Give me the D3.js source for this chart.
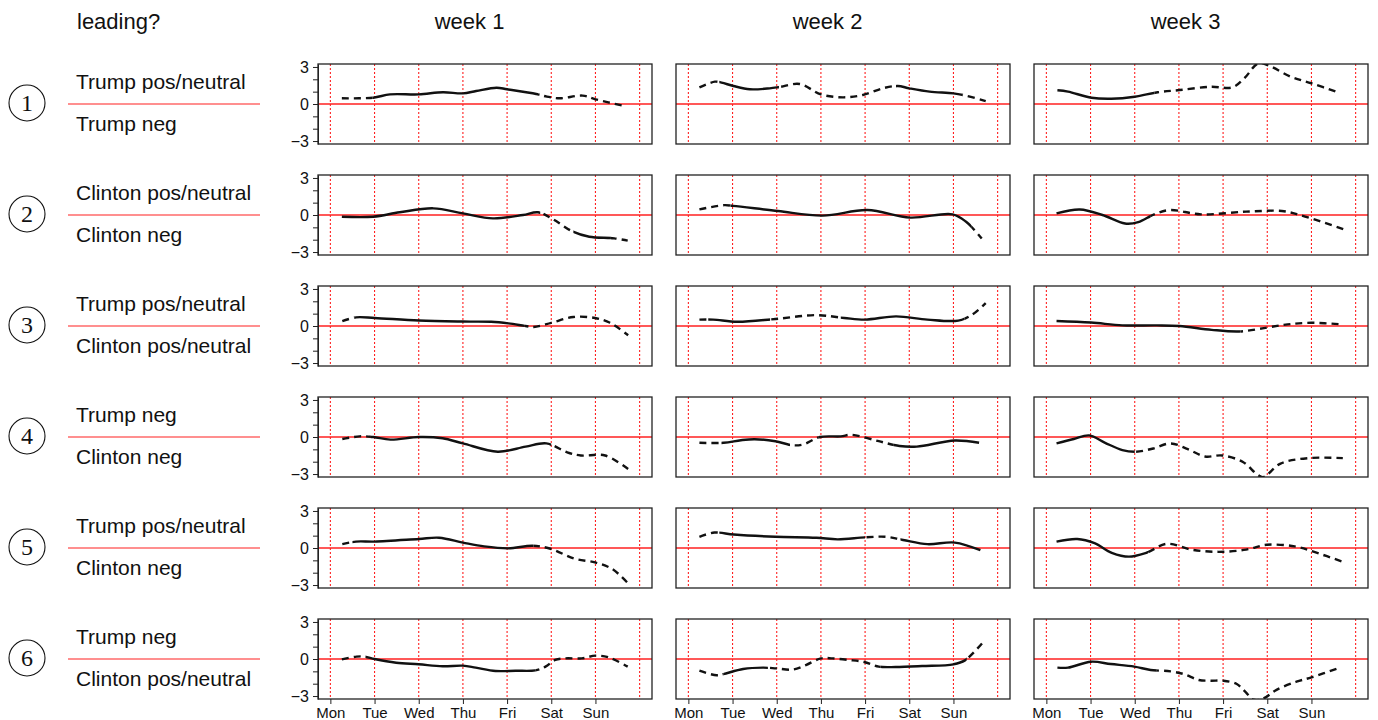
<!DOCTYPE html>
<html><head><meta charset="utf-8">
<script src="https://cdn.jsdelivr.net/npm/d3@7"></script>
<style>body{margin:0;background:#fff}svg{display:block}</style>
</head><body>
<svg id="chart" width="1378" height="720"></svg>
<script>
// ---------- data ----------
const days = ["Mon","Tue","Wed","Thu","Fri","Sat","Sun"];
const weeks = ["week 1","week 2","week 3"];
const headerLabel = "leading?";
const rowNumbers = ["1","2","3","4","5","6"];
const topLabels = ["Trump pos/neutral","Clinton pos/neutral","Trump pos/neutral","Trump neg","Trump pos/neutral","Trump neg"];
const bottomLabels = ["Trump neg","Clinton neg","Clinton pos/neutral","Clinton neg","Clinton neg","Clinton pos/neutral"];
const yTicks = [-3,-2,-1,0,1,2,3];
const yTickLabels = {"-3":"\u22123","0":"0","3":"3"};

// each row: [week1, week2, week3]; each series: [day, value]
const row1 = [
  [[0.26,0.46],[0.97,0.51],[1.35,0.78],[2.0,0.78],[2.55,0.95],[3.0,0.86],[3.3,1.05],[3.76,1.32],[4.0,1.19],[4.66,0.81],[4.9,0.6],[5.19,0.46],[5.71,0.68],[6.0,0.38],[6.65,-0.16]],
  [[0.25,1.35],[0.6,1.81],[0.75,1.73],[1.02,1.46],[1.39,1.19],[1.84,1.27],[2.07,1.38],[2.52,1.62],[3.0,0.78],[3.5,0.54],[3.95,0.73],[4.4,1.27],[4.74,1.46],[5.0,1.27],[5.46,1.0],[6.0,0.86],[6.28,0.68],[6.73,0.24]],
  [[0.25,1.11],[0.49,1.0],[1.02,0.51],[1.47,0.43],[2.0,0.59],[2.52,0.95],[3.02,1.13],[3.72,1.4],[4.21,1.35],[4.48,2.08],[4.8,3.3],[5.04,3.1],[5.53,2.21],[6.0,1.68],[6.62,0.92]]
];
const row2 = [
  [[0.26,-0.14],[0.97,-0.14],[1.57,0.22],[2.33,0.54],[3.0,0.13],[3.68,-0.27],[4.36,0.0],[4.7,0.22],[5.03,-0.32],[5.49,-1.35],[5.86,-1.76],[6.43,-1.89],[6.73,-2.08]],
  [[0.25,0.45],[0.81,0.8],[1.01,0.74],[2.03,0.32],[3.04,-0.05],[4.05,0.4],[5.02,-0.21],[5.98,0.05],[6.28,-0.53],[6.64,-1.9]],
  [[0.23,0.13],[0.76,0.45],[1.27,0.0],[1.78,-0.69],[2.08,-0.58],[2.44,0.05],[2.79,0.4],[3.5,0.05],[4.52,0.27],[5.33,0.32],[5.74,0.0],[6.72,-1.14]]
];
const row3 = [
  [[0.27,0.39],[0.58,0.7],[1.0,0.65],[2.0,0.44],[3.0,0.36],[3.64,0.34],[4.03,0.21],[4.42,0.0],[4.6,-0.08],[5.0,0.26],[5.5,0.73],[5.99,0.65],[6.33,0.26],[6.74,-0.75]],
  [[0.25,0.52],[0.56,0.52],[1.11,0.34],[1.97,0.57],[2.9,0.88],[3.53,0.65],[4.0,0.52],[4.7,0.78],[5.41,0.52],[6.11,0.44],[6.42,0.91],[6.73,1.85]],
  [[0.23,0.41],[1.01,0.28],[1.72,0.05],[2.5,0.05],[3.01,0.0],[3.74,-0.31],[4.37,-0.44],[4.99,-0.13],[5.46,0.13],[6.0,0.26],[6.68,0.13]]
];
const row4 = [
  [[0.27,-0.16],[0.66,0.05],[0.97,0.0],[1.36,-0.21],[2.0,0.0],[2.54,-0.1],[3.0,-0.52],[3.79,-1.19],[4.42,-0.78],[4.89,-0.52],[5.36,-1.24],[5.67,-1.5],[6.22,-1.5],[6.74,-2.6]],
  [[0.25,-0.47],[0.8,-0.47],[1.19,-0.26],[1.5,-0.18],[1.97,-0.34],[2.36,-0.67],[2.6,-0.6],[2.98,0.0],[3.45,0.05],[3.69,0.18],[4.31,-0.34],[4.78,-0.73],[5.17,-0.78],[6.03,-0.28],[6.58,-0.47]],
  [[0.23,-0.52],[0.62,-0.16],[0.97,0.13],[1.33,-0.47],[1.72,-1.06],[2.03,-1.19],[2.42,-0.93],[2.81,-0.52],[3.2,-0.98],[3.59,-1.58],[3.98,-1.5],[4.45,-2.02],[4.76,-3.0],[4.91,-3.25],[5.3,-2.15],[5.93,-1.71],[6.71,-1.71]]
];
const row5 = [
  [[0.27,0.31],[0.58,0.52],[1.0,0.52],[2.0,0.73],[2.46,0.83],[3.0,0.44],[3.48,0.13],[4.03,-0.03],[4.58,0.18],[5.0,-0.08],[5.52,-0.86],[5.99,-1.17],[6.38,-1.7],[6.74,-2.87]],
  [[0.25,0.91],[0.59,1.25],[1.03,1.09],[1.97,0.91],[2.9,0.83],[3.38,0.7],[4.0,0.86],[4.47,0.91],[4.86,0.65],[5.41,0.31],[6.03,0.44],[6.61,-0.18]],
  [[0.23,0.52],[0.7,0.73],[1.09,0.39],[1.48,-0.39],[1.87,-0.7],[2.26,-0.39],[2.73,0.34],[3.28,-0.13],[3.9,-0.31],[4.52,-0.13],[4.99,0.26],[5.62,0.13],[6.08,-0.34],[6.71,-1.12]]
];
const row6 = [
  [[0.26,-0.03],[0.59,0.19],[0.78,0.19],[1.0,0.0],[1.49,-0.3],[2.0,-0.43],[2.54,-0.59],[3.0,-0.54],[3.29,-0.7],[3.74,-0.97],[4.19,-0.95],[4.64,-0.92],[4.87,-0.62],[5.09,-0.08],[5.32,0.05],[5.69,0.05],[6.0,0.27],[6.29,0.14],[6.73,-0.62]],
  [[0.25,-0.95],[0.64,-1.32],[0.79,-1.22],[1.24,-0.81],[1.69,-0.7],[1.99,-0.76],[2.36,-0.86],[2.66,-0.49],[3.0,0.05],[3.26,0.05],[3.64,-0.08],[3.98,-0.24],[4.31,-0.62],[4.69,-0.65],[5.29,-0.57],[6.0,-0.43],[6.26,-0.11],[6.68,1.4]],
  [[0.25,-0.7],[0.49,-0.7],[1.01,-0.22],[1.46,-0.41],[1.99,-0.62],[2.36,-0.89],[2.81,-1.0],[3.11,-1.22],[3.45,-1.7],[3.71,-1.76],[4.01,-1.76],[4.31,-2.03],[4.5,-2.65],[4.69,-3.3],[4.91,-3.2],[5.21,-2.5],[5.66,-1.84],[6.0,-1.49],[6.6,-0.76]]
];
// day ranges drawn solid (rest dashed)
const row1Solid = [[[0.95,4.7]],[[0.7,2.05],[4.7,6.2]],[[0,2.45]]];
const row2Solid = [[[0,4.75],[5.5,6.35]],[[0.95,6.4]],[[0,2.35]]];
const row3Solid = [[[0.55,4.4]],[[0.45,1.85],[3.45,6.25]],[[0,4.4]]];
const row4Solid = [[[0.9,5.0]],[[0.75,2.3],[2.95,3.5],[4.65,7]],[[0,2.0]]];
const row5Solid = [[[0.5,4.6]],[[0.7,4.0],[4.8,7]],[[0,2.3]]];
const row6Solid = [[[0.8,4.65]],[[0.8,1.8],[4.35,6.3]],[[0,2.5]]];

const rows = [row1,row2,row3,row4,row5,row6];
const rowsSolid = [row1Solid,row2Solid,row3Solid,row4Solid,row5Solid,row6Solid];

// ---------- layout ----------
const svg = d3.select("#chart");
const FONT = "'Liberation Sans', Arial, sans-serif";
const colLeft = [318, 676, 1034];
const panelW = 334, panelH = 80, rowTop0 = 64, rowPitch = 111;
const RED = "#ff2020";

// header
svg.append("text").attr("x",77).attr("y",29).attr("font-family",FONT).attr("font-size",22).attr("fill","#111").text(headerLabel);

const defs = svg.append("defs");
let clipId = 0;

rows.forEach((row, r) => {
  const top = rowTop0 + r*rowPitch;
  const mid = top + panelH/2;
  // left labels
  svg.append("circle").attr("cx",27).attr("cy",mid-1).attr("r",18).attr("fill","none").attr("stroke","#111").attr("stroke-width",1.1);
  svg.append("text").attr("x",27).attr("y",mid-1).attr("text-anchor","middle").attr("dominant-baseline","central")
    .attr("font-family","'Liberation Serif','DejaVu Serif',serif").attr("font-size",24).attr("fill","#111").text(rowNumbers[r]);
  svg.append("text").attr("x",76).attr("y",mid-15).attr("font-family",FONT).attr("font-size",21).attr("fill","#111").text(topLabels[r]);
  svg.append("text").attr("x",76).attr("y",mid+27).attr("font-family",FONT).attr("font-size",21).attr("fill","#111").text(bottomLabels[r]);
  svg.append("line").attr("x1",68).attr("x2",260).attr("y1",mid).attr("y2",mid).attr("stroke",RED).attr("stroke-width",1.2);

  row.forEach((series, c) => {
    const left = colLeft[c];
    const x = d3.scaleLinear().domain([-0.28, 7.28]).range([left, left+panelW]);
    const y = d3.scaleLinear().domain([-3.24, 3.24]).range([top+panelH, top]);
    const g = svg.append("g");

    // week titles
    if (r === 0) {
      svg.append("text").attr("x", x(3.15)).attr("y", 29).attr("text-anchor","middle")
        .attr("font-family",FONT).attr("font-size",22).attr("fill","#111").text(weeks[c]);
    }
    // vertical day lines
    g.selectAll("line.v").data(d3.range(0,8)).join("line")
      .attr("x1",d=>x(d)).attr("x2",d=>x(d)).attr("y1",top).attr("y2",top+panelH)
      .attr("stroke",RED).attr("stroke-width",1.1).attr("stroke-dasharray","2,2");
    // zero line
    g.append("line").attr("x1",left).attr("x2",left+panelW).attr("y1",y(0)).attr("y2",y(0))
      .attr("stroke",RED).attr("stroke-width",1.4);

    // clip paths
    const solid = rowsSolid[r][c];
    const dashed = [];
    let start = -0.28;
    solid.forEach(([a,b]) => { if (a > start) dashed.push([start,a]); start = b; });
    if (start < 7.28) dashed.push([start, 7.28]);
    const mkClip = (ranges) => {
      const id = "clip" + (clipId++);
      const cp = defs.append("clipPath").attr("id", id);
      ranges.forEach(([a,b]) => {
        const xa = Math.max(left, x(a)), xb = Math.min(left+panelW, x(b));
        cp.append("rect").attr("x", xa).attr("y", top).attr("width", Math.max(0, xb-xa)).attr("height", panelH);
      });
      return id;
    };
    const solidClip = mkClip(solid);
    const dashClip = mkClip(dashed);

    const line = d3.line().x(d=>x(d[0])).y(d=>y(d[1])).curve(d3.curveCatmullRom.alpha(0.5));
    g.append("path").datum(series).attr("d", line).attr("fill","none").attr("stroke","#111")
      .attr("stroke-width",2.4).attr("stroke-dasharray","7,5").attr("clip-path",`url(#${dashClip})`);
    g.append("path").datum(series).attr("d", line).attr("fill","none").attr("stroke","#111")
      .attr("stroke-width",2.4).attr("clip-path",`url(#${solidClip})`);

    // frame
    g.append("rect").attr("x",left).attr("y",top).attr("width",panelW).attr("height",panelH)
      .attr("fill","none").attr("stroke","#222").attr("stroke-width",1.3);

    // y axis
    if (c === 0) {
      const ax = svg.append("g").attr("transform",`translate(${left},0)`)
        .call(d3.axisLeft(y).tickValues(yTicks).tickSize(5).tickSizeOuter(0).tickPadding(4)
          .tickFormat(d => yTickLabels[String(d)] || ""));
      ax.attr("font-size",null).attr("font-family",null);
      ax.select(".domain").attr("stroke","#222");
      ax.selectAll("text").style("font-family",FONT).style("font-size","16px").attr("fill","#111");
      ax.selectAll("line").attr("stroke","#222");
    }
    // x axis
    if (r === rows.length-1) {
      const ax = svg.append("g").attr("transform",`translate(0,${top+panelH})`)
        .call(d3.axisBottom(x).tickValues(d3.range(0,7)).tickSize(5).tickSizeOuter(0).tickPadding(3)
          .tickFormat((d,i) => days[i]));
      ax.attr("font-size",null).attr("font-family",null);
      ax.select(".domain").remove();
      ax.selectAll("text").style("font-family",FONT).style("font-size","15px").attr("fill","#111");
      ax.selectAll("line").attr("stroke","#222");
    }
  });
});
</script>
</body></html>
